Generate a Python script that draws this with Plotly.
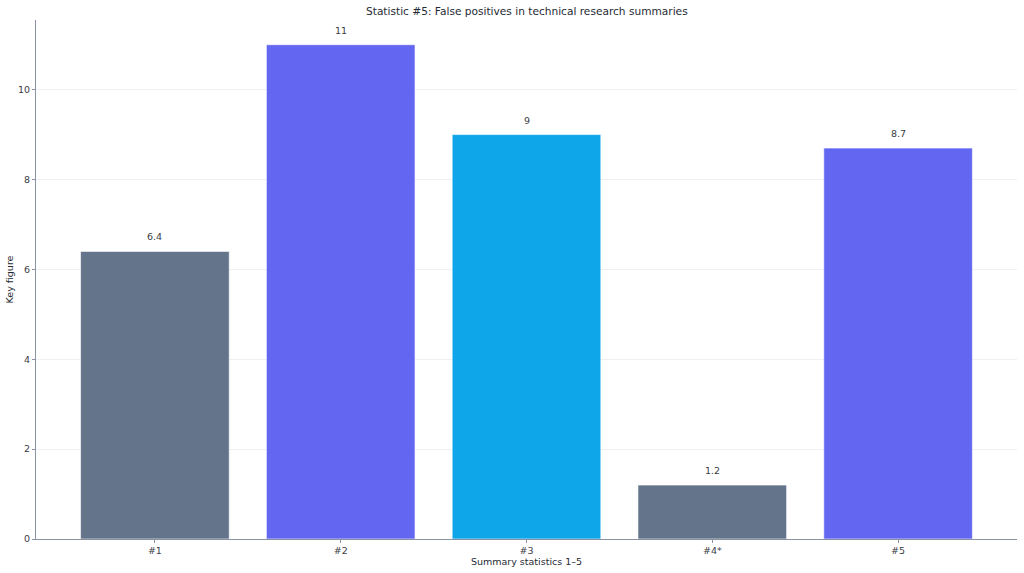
import plotly.graph_objects as go

categories = ["#1", "#2", "#3", "#4*", "#5"]
values = [6.4, 11, 9, 1.2, 8.7]
colors = ["#64748b", "#6366f1", "#0ea5e9", "#64748b", "#6366f1"]
labels = ["6.4", "11", "9", "1.2", "8.7"]

title = "Statistic #5: False positives in technical research summaries"
x_title = "Summary statistics 1–5"
y_title = "Key figure"

font = "DejaVu Sans"
text_color = "#3a3d44"
title_color = "#262a33"
axis_color = "#8a93a3"

xs = list(range(len(categories)))

fig = go.Figure()
fig.add_trace(go.Bar(
    x=xs,
    y=values,
    width=0.8,
    marker=dict(color=colors, line=dict(color="rgba(255,255,255,0.6)", width=1)),
    cliponaxis=False,
    hoverinfo="skip",
))

for xv, yv, lab in zip(xs, values, labels):
    fig.add_annotation(x=xv, y=yv, text=lab, showarrow=False,
                       xref="x", yref="y", yanchor="bottom", yshift=7,
                       font=dict(family=font, size=9.5, color=text_color))

fig.add_annotation(text=title, xref="paper", yref="paper", x=0.5, y=1 + 9 / 519,
                   xanchor="center", yanchor="middle", showarrow=False,
                   font=dict(family=font, size=10.6, color=title_color))

fig.update_layout(
    width=1024, height=573,
    margin=dict(l=36, r=7, t=20, b=34, autoexpand=False),
    paper_bgcolor="white", plot_bgcolor="white",
    font=dict(family=font, size=9.5, color=text_color),
    showlegend=False,
    bargap=0.2,
)
fig.update_xaxes(
    tickmode="array", tickvals=xs, ticktext=categories,
    range=[-0.64, 4.64], automargin=False,
    showline=True, linecolor=axis_color, linewidth=1,
    ticks="outside", ticklen=3, tickcolor=axis_color,
    showgrid=False, zeroline=False,
    title=dict(text=x_title, standoff=2, font=dict(family=font, size=9.5, color=title_color)),
    tickfont=dict(family=font, size=9.5, color=text_color),
)
fig.update_yaxes(
    range=[0, 11.55], tickvals=[0, 2, 4, 6, 8, 10], automargin=False,
    showline=True, linecolor=axis_color, linewidth=1,
    ticks="outside", ticklen=3, tickcolor=axis_color,
    showgrid=True, gridcolor="#eef0f3", gridwidth=1, zeroline=False,
    title=dict(text=y_title, standoff=2, font=dict(family=font, size=9.5, color=title_color)),
    tickfont=dict(family=font, size=9.5, color=text_color),
)

fig.write_html("out.html", config={"displayModeBar": False},
               post_script="document.body.style.margin='0px';document.body.style.overflow='hidden';")
